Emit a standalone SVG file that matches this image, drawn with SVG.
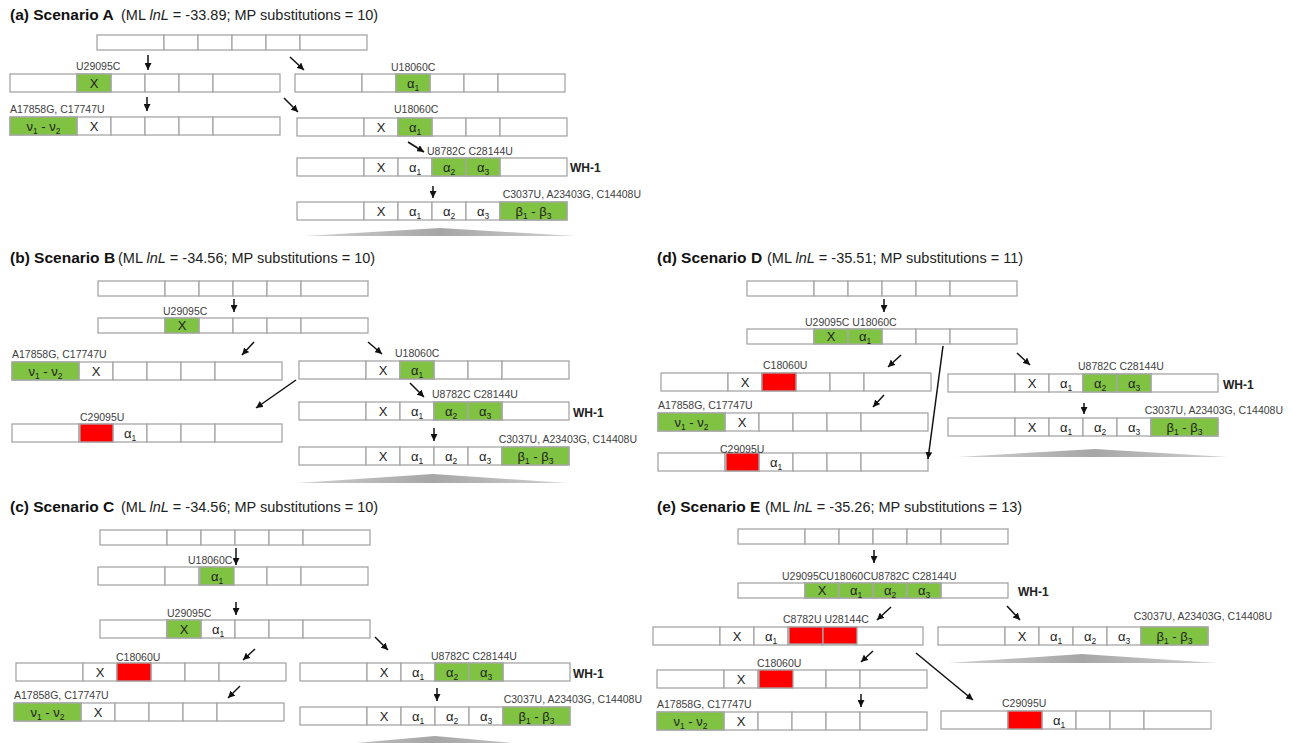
<svg xmlns="http://www.w3.org/2000/svg" xmlns:xlink="http://www.w3.org/1999/xlink" width="1292" height="743" viewBox="0 0 1292 743">
<style>
.bg{fill:#fff}
.cell{fill:#fff;stroke:#A6A6A6;stroke-width:1.3}
.g{fill:#80C342;stroke:#A6A6A6;stroke-width:1.3}
.r{fill:#FF0000;stroke:#A6A6A6;stroke-width:1.3}
.t{font-family:"Liberation Sans",Arial,sans-serif;font-size:13px;fill:#222;text-anchor:middle}
.s{font-size:8.5px}
.lbl{font-family:"Liberation Sans",Arial,sans-serif;font-size:10.5px;fill:#404040}
.lblr{font-family:"Liberation Sans",Arial,sans-serif;font-size:10.5px;fill:#404040;text-anchor:end}
.wh{font-family:"Liberation Sans",Arial,sans-serif;font-size:12px;font-weight:bold;fill:#222}
.tb{font-family:"Liberation Sans",Arial,sans-serif;font-size:15.5px;font-weight:bold;fill:#111}
.tr{font-family:"Liberation Sans",Arial,sans-serif;font-size:14.5px;fill:#222}
.arr{stroke:#111;stroke-width:1.5;fill:none;marker-end:url(#ah)}
.tri{fill:url(#tg)}
</style>
<defs>
<marker id="ah" viewBox="0 0 10 10" refX="10" refY="5" markerWidth="7" markerHeight="7" markerUnits="userSpaceOnUse" orient="auto">
<path d="M0,0 L10,5 L0,10 z" fill="#111"/>
</marker>
<linearGradient id="tg" x1="0" y1="0" x2="1" y2="0">
<stop offset="0" stop-color="#D0D0D0"/>
<stop offset="0.5" stop-color="#A6A6A6"/>
<stop offset="1" stop-color="#D0D0D0"/>
</linearGradient>
<g id="row">
<rect class="cell" x="0" y="0" width="67" height="18"/>
<rect class="cell" x="67" y="0" width="34" height="18"/>
<rect class="cell" x="101" y="0" width="34" height="18"/>
<rect class="cell" x="135" y="0" width="34" height="18"/>
<rect class="cell" x="169" y="0" width="34" height="18"/>
<rect class="cell" x="203" y="0" width="67" height="18"/>
</g>
<g id="row0">
<rect class="cell" x="0" y="0" width="67" height="15"/>
<rect class="cell" x="67" y="0" width="34" height="15"/>
<rect class="cell" x="101" y="0" width="34" height="15"/>
<rect class="cell" x="135" y="0" width="34" height="15"/>
<rect class="cell" x="169" y="0" width="34" height="15"/>
<rect class="cell" x="203" y="0" width="67" height="15"/>
</g>
</defs>
<rect class="bg" x="0" y="0" width="1292" height="743"/>

<!-- Titles -->
<g id="titles">
<text class="tb" x="10" y="20">(a) Scenario A</text>
<text class="tr" x="121" y="20">(ML <tspan font-style="italic">lnL</tspan> = -33.89; MP substitutions = 10)</text>
<text class="tb" x="10" y="263">(b) Scenario B</text>
<text class="tr" x="118" y="263">(ML <tspan font-style="italic">lnL</tspan> = -34.56; MP substitutions = 10)</text>
<text class="tb" x="10" y="512">(c) Scenario C</text>
<text class="tr" x="121" y="512">(ML <tspan font-style="italic">lnL</tspan> = -34.56; MP substitutions = 10)</text>
<text class="tb" x="657" y="263">(d) Scenario D</text>
<text class="tr" x="767" y="263">(ML <tspan font-style="italic">lnL</tspan> = -35.51; MP substitutions = 11)</text>
<text class="tb" x="657" y="512">(e) Scenario E</text>
<text class="tr" x="765" y="512">(ML <tspan font-style="italic">lnL</tspan> = -35.26; MP substitutions = 13)</text>
</g>

<!-- ================= Scenario A ================= -->
<g id="a-root" transform="translate(97,35)"><use xlink:href="#row0" href="#row0"/></g>
<g id="a-x" transform="translate(10,74)">
<use xlink:href="#row" href="#row"/>
<rect class="g" x="67" y="0" width="34" height="18"/>
<text class="t" x="84" y="13.5">X</text>
<text class="lbl" x="66" y="-4">U29095C</text>
</g>
<g id="a-nu" transform="translate(10,117)">
<use xlink:href="#row" href="#row"/>
<rect class="g" x="0" y="0" width="67" height="18"/>
<text class="t" x="33.5" y="13.5">ν<tspan class="s" dy="3">1</tspan><tspan dy="-3"> - ν</tspan><tspan class="s" dy="3">2</tspan></text>
<text class="t" x="84" y="13.5">X</text>
<text class="lbl" x="0" y="-4">A17858G, C17747U</text>
</g>
<g id="a-a1" transform="translate(295,74)">
<use xlink:href="#row" href="#row"/>
<rect class="g" x="101" y="0" width="34" height="18"/>
<text class="t" x="118" y="13.5">α<tspan class="s" dy="3">1</tspan></text>
<text class="lbl" x="96" y="-3">U18060C</text>
</g>
<g id="a-xa1" transform="translate(297,118)">
<use xlink:href="#row" href="#row"/>
<rect class="g" x="101" y="0" width="34" height="18"/>
<text class="t" x="84" y="13.5">X</text>
<text class="t" x="118" y="13.5">α<tspan class="s" dy="3">1</tspan></text>
<text class="lbl" x="97" y="-5">U18060C</text>
</g>
<g id="a-wh1" transform="translate(297,158)">
<use xlink:href="#row" href="#row"/>
<rect class="g" x="135" y="0" width="34" height="18"/>
<rect class="g" x="169" y="0" width="34" height="18"/>
<text class="t" x="84" y="13.5">X</text>
<text class="t" x="118" y="13.5">α<tspan class="s" dy="3">1</tspan></text>
<text class="t" x="152" y="13.5">α<tspan class="s" dy="3">2</tspan></text>
<text class="t" x="186" y="13.5">α<tspan class="s" dy="3">3</tspan></text>
<text class="lbl" x="130" y="-3">U8782C C28144U</text>
<text class="wh" x="273" y="14">WH-1</text>
</g>
<g id="a-beta" transform="translate(297,202)">
<use xlink:href="#row" href="#row"/>
<rect class="g" x="203" y="0" width="67" height="18"/>
<text class="t" x="84" y="13.5">X</text>
<text class="t" x="118" y="13.5">α<tspan class="s" dy="3">1</tspan></text>
<text class="t" x="152" y="13.5">α<tspan class="s" dy="3">2</tspan></text>
<text class="t" x="186" y="13.5">α<tspan class="s" dy="3">3</tspan></text>
<text class="t" x="236.5" y="13.5">β<tspan class="s" dy="3">1</tspan><tspan dy="-3"> - β</tspan><tspan class="s" dy="3">3</tspan></text>
<text class="lblr" x="344" y="-4">C3037U, A23403G, C14408U</text>
</g>
<polygon id="a-tri" class="tri" points="305,236 440,228 575,236"/>

<!-- ================= Scenario B ================= -->
<g id="b-root" transform="translate(98,281)"><use xlink:href="#row0" href="#row0"/></g>
<g id="b-x" transform="translate(98,318)">
<use xlink:href="#row0" href="#row0"/>
<rect class="g" x="67" y="0" width="34" height="15"/>
<text class="t" x="84" y="12">X</text>
<text class="lbl" x="65" y="-3">U29095C</text>
</g>
<g id="b-nu" transform="translate(12,362)">
<use xlink:href="#row" href="#row"/>
<rect class="g" x="0" y="0" width="67" height="18"/>
<text class="t" x="33.5" y="13.5">ν<tspan class="s" dy="3">1</tspan><tspan dy="-3"> - ν</tspan><tspan class="s" dy="3">2</tspan></text>
<text class="t" x="84" y="13.5">X</text>
<text class="lbl" x="0" y="-4">A17858G, C17747U</text>
</g>
<g id="b-rev" transform="translate(12,424)">
<use xlink:href="#row" href="#row"/>
<rect class="r" x="68" y="0" width="33" height="18"/>
<text class="t" x="118" y="13.5">α<tspan class="s" dy="3">1</tspan></text>
<text class="lbl" x="68" y="-3">C29095U</text>
</g>
<g id="b-xa1" transform="translate(299,361)">
<use xlink:href="#row" href="#row"/>
<rect class="g" x="101" y="0" width="34" height="18"/>
<text class="t" x="84" y="13.5">X</text>
<text class="t" x="118" y="13.5">α<tspan class="s" dy="3">1</tspan></text>
<text class="lbl" x="96" y="-4">U18060C</text>
</g>
<g id="b-wh1" transform="translate(299,402)">
<use xlink:href="#row" href="#row"/>
<rect class="g" x="135" y="0" width="34" height="18"/>
<rect class="g" x="169" y="0" width="34" height="18"/>
<text class="t" x="84" y="13.5">X</text>
<text class="t" x="118" y="13.5">α<tspan class="s" dy="3">1</tspan></text>
<text class="t" x="152" y="13.5">α<tspan class="s" dy="3">2</tspan></text>
<text class="t" x="186" y="13.5">α<tspan class="s" dy="3">3</tspan></text>
<text class="lbl" x="133" y="-4">U8782C C28144U</text>
<text class="wh" x="274" y="15">WH-1</text>
</g>
<g id="b-beta" transform="translate(299,447)">
<use xlink:href="#row" href="#row"/>
<rect class="g" x="203" y="0" width="67" height="18"/>
<text class="t" x="84" y="13.5">X</text>
<text class="t" x="118" y="13.5">α<tspan class="s" dy="3">1</tspan></text>
<text class="t" x="152" y="13.5">α<tspan class="s" dy="3">2</tspan></text>
<text class="t" x="186" y="13.5">α<tspan class="s" dy="3">3</tspan></text>
<text class="t" x="236.5" y="13.5">β<tspan class="s" dy="3">1</tspan><tspan dy="-3"> - β</tspan><tspan class="s" dy="3">3</tspan></text>
<text class="lblr" x="338" y="-4">C3037U, A23403G, C14408U</text>
</g>
<polygon id="b-tri" class="tri" points="297,483 433,474 567,483"/>

<!-- ================= Scenario C ================= -->
<g id="c-root" transform="translate(100,530)"><use xlink:href="#row0" href="#row0"/></g>
<g id="c-a1" transform="translate(98,567)">
<use xlink:href="#row" href="#row"/>
<rect class="g" x="102" y="0" width="34" height="18"/>
<text class="t" x="119" y="13.5">α<tspan class="s" dy="3">1</tspan></text>
<text class="lbl" x="90" y="-3">U18060C</text>
</g>
<g id="c-xa1" transform="translate(100,620)">
<use xlink:href="#row" href="#row"/>
<rect class="g" x="67" y="0" width="34" height="18"/>
<text class="t" x="84" y="13.5">X</text>
<text class="t" x="118" y="13.5">α<tspan class="s" dy="3">1</tspan></text>
<text class="lbl" x="67" y="-3">U29095C</text>
</g>
<g id="c-rev" transform="translate(16,663)">
<use xlink:href="#row" href="#row"/>
<rect class="r" x="101" y="0" width="34" height="18"/>
<text class="t" x="84" y="13.5">X</text>
<text class="lbl" x="100" y="-2">C18060U</text>
</g>
<g id="c-nu" transform="translate(14,703)">
<use xlink:href="#row" href="#row"/>
<rect class="g" x="0" y="0" width="67" height="18"/>
<text class="t" x="33.5" y="13.5">ν<tspan class="s" dy="3">1</tspan><tspan dy="-3"> - ν</tspan><tspan class="s" dy="3">2</tspan></text>
<text class="t" x="84" y="13.5">X</text>
<text class="lbl" x="0" y="-4">A17858G, C17747U</text>
</g>
<g id="c-wh1" transform="translate(300,663)">
<use xlink:href="#row" href="#row"/>
<rect class="g" x="135" y="0" width="34" height="18"/>
<rect class="g" x="169" y="0" width="34" height="18"/>
<text class="t" x="84" y="13.5">X</text>
<text class="t" x="118" y="13.5">α<tspan class="s" dy="3">1</tspan></text>
<text class="t" x="152" y="13.5">α<tspan class="s" dy="3">2</tspan></text>
<text class="t" x="186" y="13.5">α<tspan class="s" dy="3">3</tspan></text>
<text class="lbl" x="131" y="-3">U8782C C28144U</text>
<text class="wh" x="273" y="15">WH-1</text>
</g>
<g id="c-beta" transform="translate(300,707)">
<use xlink:href="#row" href="#row"/>
<rect class="g" x="203" y="0" width="67" height="18"/>
<text class="t" x="84" y="13.5">X</text>
<text class="t" x="118" y="13.5">α<tspan class="s" dy="3">1</tspan></text>
<text class="t" x="152" y="13.5">α<tspan class="s" dy="3">2</tspan></text>
<text class="t" x="186" y="13.5">α<tspan class="s" dy="3">3</tspan></text>
<text class="t" x="236.5" y="13.5">β<tspan class="s" dy="3">1</tspan><tspan dy="-3"> - β</tspan><tspan class="s" dy="3">3</tspan></text>
<text class="lblr" x="342" y="-4">C3037U, A23403G, C14408U</text>
</g>
<polygon id="c-tri" class="tri" points="300,748 435,736 567,748"/>

<!-- ================= Scenario D ================= -->
<g id="d-root" transform="translate(747,281)"><use xlink:href="#row0" href="#row0"/></g>
<g id="d-xa1" transform="translate(747,329)">
<use xlink:href="#row0" href="#row0"/>
<rect class="g" x="67" y="0" width="34" height="15"/>
<rect class="g" x="101" y="0" width="34" height="15"/>
<text class="t" x="84" y="12">X</text>
<text class="t" x="118" y="12">α<tspan class="s" dy="3">1</tspan></text>
<text class="lbl" x="58" y="-3">U29095C U18060C</text>
</g>
<g id="d-rev" transform="translate(661,373)">
<use xlink:href="#row" href="#row"/>
<rect class="r" x="101" y="0" width="34" height="18"/>
<text class="t" x="84" y="13.5">X</text>
<text class="lbl" x="102" y="-4">C18060U</text>
</g>
<g id="d-nu" transform="translate(658,413)">
<use xlink:href="#row" href="#row"/>
<rect class="g" x="0" y="0" width="67" height="18"/>
<text class="t" x="33.5" y="13.5">ν<tspan class="s" dy="3">1</tspan><tspan dy="-3"> - ν</tspan><tspan class="s" dy="3">2</tspan></text>
<text class="t" x="84" y="13.5">X</text>
<text class="lbl" x="0" y="-4">A17858G, C17747U</text>
</g>
<g id="d-rev2" transform="translate(658,453)">
<use xlink:href="#row" href="#row"/>
<rect class="r" x="68" y="0" width="33" height="18"/>
<text class="t" x="118" y="13.5">α<tspan class="s" dy="3">1</tspan></text>
<text class="lbl" x="62" y="0">C29095U</text>
</g>
<g id="d-wh1" transform="translate(948,374)">
<use xlink:href="#row" href="#row"/>
<rect class="g" x="135" y="0" width="34" height="18"/>
<rect class="g" x="169" y="0" width="34" height="18"/>
<text class="t" x="84" y="13.5">X</text>
<text class="t" x="118" y="13.5">α<tspan class="s" dy="3">1</tspan></text>
<text class="t" x="152" y="13.5">α<tspan class="s" dy="3">2</tspan></text>
<text class="t" x="186" y="13.5">α<tspan class="s" dy="3">3</tspan></text>
<text class="lbl" x="130" y="-4">U8782C C28144U</text>
<text class="wh" x="275" y="15">WH-1</text>
</g>
<g id="d-beta" transform="translate(948,418)">
<use xlink:href="#row" href="#row"/>
<rect class="g" x="203" y="0" width="67" height="18"/>
<text class="t" x="84" y="13.5">X</text>
<text class="t" x="118" y="13.5">α<tspan class="s" dy="3">1</tspan></text>
<text class="t" x="152" y="13.5">α<tspan class="s" dy="3">2</tspan></text>
<text class="t" x="186" y="13.5">α<tspan class="s" dy="3">3</tspan></text>
<text class="t" x="236.5" y="13.5">β<tspan class="s" dy="3">1</tspan><tspan dy="-3"> - β</tspan><tspan class="s" dy="3">3</tspan></text>
<text class="lblr" x="335" y="-4">C3037U, A23403G, C14408U</text>
</g>
<polygon id="d-tri" class="tri" points="957,457 1095,449 1228,457"/>

<!-- ================= Scenario E ================= -->
<g id="e-root" transform="translate(738,529)"><use xlink:href="#row0" href="#row0"/></g>
<g id="e-wh1" transform="translate(738,583)">
<use xlink:href="#row0" href="#row0"/>
<rect class="g" x="67" y="0" width="34" height="15"/>
<rect class="g" x="101" y="0" width="34" height="15"/>
<rect class="g" x="135" y="0" width="34" height="15"/>
<rect class="g" x="169" y="0" width="34" height="15"/>
<text class="t" x="84" y="12">X</text>
<text class="t" x="118" y="12">α<tspan class="s" dy="3">1</tspan></text>
<text class="t" x="152" y="12">α<tspan class="s" dy="3">2</tspan></text>
<text class="t" x="186" y="12">α<tspan class="s" dy="3">3</tspan></text>
<text class="lbl" x="44" y="-3">U29095CU18060CU8782C C28144U</text>
<text class="wh" x="280" y="13">WH-1</text>
</g>
<g id="e-rev" transform="translate(653,627)">
<use xlink:href="#row" href="#row"/>
<rect class="r" x="136" y="0" width="34" height="17"/>
<rect class="r" x="170" y="0" width="34" height="17"/>
<text class="t" x="84" y="13.5">X</text>
<text class="t" x="118" y="13.5">α<tspan class="s" dy="3">1</tspan></text>
<text class="lbl" x="130" y="-4">C8782U U28144C</text>
</g>
<g id="e-rev2" transform="translate(657,670)">
<use xlink:href="#row" href="#row"/>
<rect class="r" x="102" y="0" width="34" height="18"/>
<text class="t" x="84" y="13.5">X</text>
<text class="lbl" x="100" y="-3">C18060U</text>
</g>
<g id="e-nu" transform="translate(657,712)">
<use xlink:href="#row" href="#row"/>
<rect class="g" x="0" y="0" width="67" height="18"/>
<text class="t" x="33.5" y="13.5">ν<tspan class="s" dy="3">1</tspan><tspan dy="-3"> - ν</tspan><tspan class="s" dy="3">2</tspan></text>
<text class="t" x="84" y="13.5">X</text>
<text class="lbl" x="0" y="-4">A17858G, C17747U</text>
</g>
<g id="e-beta" transform="translate(938,627)">
<use xlink:href="#row" href="#row"/>
<rect class="g" x="203" y="0" width="67" height="18"/>
<text class="t" x="84" y="13.5">X</text>
<text class="t" x="118" y="13.5">α<tspan class="s" dy="3">1</tspan></text>
<text class="t" x="152" y="13.5">α<tspan class="s" dy="3">2</tspan></text>
<text class="t" x="186" y="13.5">α<tspan class="s" dy="3">3</tspan></text>
<text class="t" x="236.5" y="13.5">β<tspan class="s" dy="3">1</tspan><tspan dy="-3"> - β</tspan><tspan class="s" dy="3">3</tspan></text>
<text class="lblr" x="334" y="-7">C3037U, A23403G, C14408U</text>
</g>
<polygon id="e-tri" class="tri" points="948,663 1082,654 1217,663"/>
<g id="e-rev3" transform="translate(941,711)">
<use xlink:href="#row" href="#row"/>
<rect class="r" x="67" y="0" width="34" height="18"/>
<text class="t" x="118" y="13.5">α<tspan class="s" dy="3">1</tspan></text>
<text class="lbl" x="61" y="-4">C29095U</text>
</g>

<!-- ================= Connectors ================= -->
<g id="connectors">
<line class="arr" x1="148" y1="55" x2="148" y2="70"/>
<line class="arr" x1="290" y1="57" x2="304" y2="70"/>
<line class="arr" x1="147" y1="97" x2="147" y2="111"/>
<line class="arr" x1="284" y1="98" x2="298" y2="112"/>
<line class="arr" x1="408" y1="142" x2="424" y2="152"/>
<line class="arr" x1="433" y1="186" x2="433" y2="198"/>

<line class="arr" x1="234" y1="299" x2="234" y2="312"/>
<line class="arr" x1="254" y1="342" x2="242" y2="355"/>
<line class="arr" x1="296" y1="380" x2="256" y2="408"/>
<line class="arr" x1="368" y1="342" x2="382" y2="354"/>
<line class="arr" x1="410" y1="383" x2="424" y2="397"/>
<line class="arr" x1="434" y1="428" x2="434" y2="441"/>

<line class="arr" x1="236" y1="548" x2="236" y2="565"/>
<line class="arr" x1="236" y1="602" x2="236" y2="615"/>
<line class="arr" x1="255" y1="649" x2="243" y2="660"/>
<line class="arr" x1="240" y1="686" x2="228" y2="698"/>
<line class="arr" x1="375" y1="637" x2="388" y2="650"/>
<line class="arr" x1="437" y1="688" x2="437" y2="701"/>

<line class="arr" x1="884" y1="299" x2="884" y2="312"/>
<line class="arr" x1="943" y1="346" x2="928" y2="459"/>
<line class="arr" x1="901" y1="355" x2="888" y2="367"/>
<line class="arr" x1="884" y1="395" x2="873" y2="407"/>
<line class="arr" x1="1017" y1="353" x2="1030" y2="365"/>
<line class="arr" x1="1084" y1="403" x2="1084" y2="414"/>

<line class="arr" x1="874" y1="550" x2="874" y2="563"/>
<line class="arr" x1="891" y1="607" x2="877" y2="620"/>
<line class="arr" x1="873" y1="651" x2="861" y2="662"/>
<line class="arr" x1="916" y1="653" x2="973" y2="700"/>
<line class="arr" x1="861" y1="694" x2="861" y2="707"/>
<line class="arr" x1="1007" y1="606" x2="1020" y2="620"/>
</g>
</svg>
